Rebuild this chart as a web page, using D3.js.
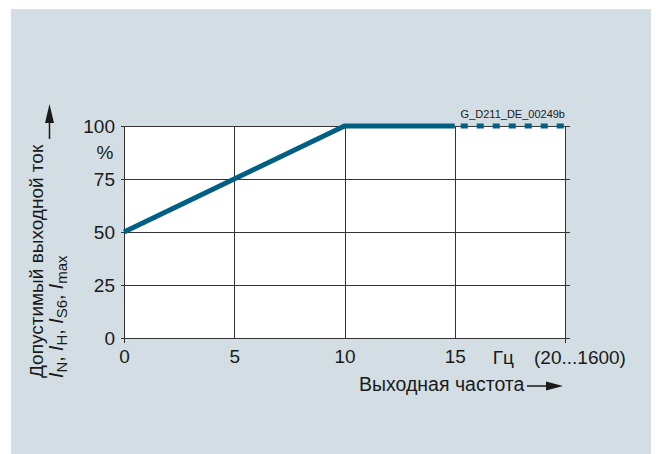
<!DOCTYPE html>
<html>
<head>
<meta charset="utf-8">
<script src="https://cdn.jsdelivr.net/npm/d3@7"></script>
<style>
  body { margin: 0; background: #fff; }
  text { font-family: "Liberation Sans", Arial, sans-serif; fill: #1a1a1a; }
</style>
</head>
<body>
<div id="chart"></div>
<script>
// chart data
var xTicks = [0, 5, 10, 15];
var xEnd = 20;
var yTicks = [0, 25, 50, 75, 100];
var solidX = [0, 10, 15];
var solidY = [50, 100, 100];
var dashX = [15, 20];
var dashY = [100, 100];

var W = 656, H = 454;
var margin = {top: 126, right: 91, bottom: 116, left: 124},
    width = W - margin.left - margin.right,
    height = H - margin.top - margin.bottom;

var svg = d3.select('#chart')
  .append('svg')
    .attr('width', W)
    .attr('height', H);

// background panel
svg.append('rect')
  .attr('x', 11).attr('y', 9)
  .attr('width', 640).attr('height', H - 9)
  .attr('fill', '#d3dee4');

var g = svg.append('g')
  .attr('transform', 'translate(' + margin.left + ',' + margin.top + ')');

var x = d3.scaleLinear().domain([0, xEnd]).range([0, width]);
var y = d3.scaleLinear().domain([0, 100]).range([height, 0]);

// plot area
g.append('rect')
  .attr('width', width).attr('height', height)
  .attr('fill', '#fff');

// horizontal grid lines
g.selectAll('.hgrid')
  .data(yTicks)
  .enter().append('line')
    .attr('x1', -3).attr('x2', width + 5)
    .attr('y1', function(d) { return y(d) + 0.5; })
    .attr('y2', function(d) { return y(d) + 0.5; })
    .attr('stroke', '#333').attr('stroke-width', 1);

// vertical grid lines
g.selectAll('.vgrid')
  .data(xTicks.concat([xEnd]))
  .enter().append('line')
    .attr('x1', function(d) { return Math.round(x(d)) + 0.5; })
    .attr('x2', function(d) { return Math.round(x(d)) + 0.5; })
    .attr('y1', 0)
    .attr('y2', function(d) { return (d === 0 || d === xEnd) ? height + 5 : height; })
    .attr('stroke', '#333').attr('stroke-width', 1);

// y axis labels
var yAxis = d3.axisLeft(y).tickValues(yTicks).tickSize(0).tickPadding(9);
var ya = g.append('g').call(yAxis);
ya.select('.domain').remove();
ya.selectAll('text')
  .style('font-size', '19px')
  .attr('fill', '#1a1a1a');

// x axis labels
var xAxis = d3.axisBottom(x).tickValues(xTicks).tickSize(0).tickPadding(12);
var xa = g.append('g').attr('transform', 'translate(0,' + height + ')').call(xAxis);
xa.select('.domain').remove();
xa.selectAll('text')
  .style('font-size', '19px')
  .attr('fill', '#1a1a1a');

// unit labels
g.append('text')
  .attr('x', -19).attr('y', y(87.5))
  .attr('dy', '0.35em')
  .attr('text-anchor', 'middle')
  .style('font-size', '19px')
  .text('%');

g.append('text')
  .attr('x', x(17.2)).attr('y', height + 26)
  .attr('text-anchor', 'middle')
  .style('font-size', '19px')
  .text('Гц');

g.append('text')
  .attr('x', x(xEnd) + 15).attr('y', height + 26)
  .attr('text-anchor', 'middle')
  .style('font-size', '19px')
  .text('(20...1600)');

// data line
var line = d3.line()
  .x(function(d) { return x(d[0]); })
  .y(function(d) { return y(d[1]); });

g.append('path')
  .attr('d', line(d3.zip(solidX, solidY)))
  .attr('fill', 'none')
  .attr('stroke', '#005f83')
  .attr('stroke-width', 5)
  .attr('stroke-linejoin', 'miter');

g.append('path')
  .attr('d', line(d3.zip(dashX, dashY)))
  .attr('fill', 'none')
  .attr('stroke', '#005f83')
  .attr('stroke-width', 5)
  .attr('stroke-dasharray', '7,9')
  .attr('stroke-dashoffset', -6);

// drawing id
g.append('text')
  .attr('x', width).attr('y', -8)
  .attr('text-anchor', 'end')
  .style('font-size', '11px')
  .text('G_D211_DE_00249b');

// x axis title with arrow
svg.append('text')
  .attr('x', 359).attr('y', 391)
  .style('font-size', '19.5px')
  .text('Выходная частота');

svg.append('line')
  .attr('x1', 527).attr('x2', 550)
  .attr('y1', 386).attr('y2', 386)
  .attr('stroke', '#1a1a1a').attr('stroke-width', 1.5);
svg.append('path')
  .attr('d', 'M563,386 L546,381.5 L546,390.5 Z')
  .attr('fill', '#1a1a1a');

// y axis title with arrow
svg.append('text')
  .attr('transform', 'translate(43,378) rotate(-90)')
  .style('font-size', '19px')
  .text('Допустимый выходной ток');

var t2 = svg.append('text')
  .attr('transform', 'translate(63,378) rotate(-90)')
  .style('font-size', '19.5px');
[['N', ', '], ['H', ', '], ['S6', ', '], ['max', '']].forEach(function(p) {
  t2.append('tspan').style('font-style', 'italic').text('I');
  t2.append('tspan').attr('dy', 4).style('font-size', '15px').text(p[0]);
  t2.append('tspan').attr('dy', -4).text(p[1]);
});

svg.append('line')
  .attr('x1', 49.5).attr('x2', 49.5)
  .attr('y1', 139).attr('y2', 118)
  .attr('stroke', '#1a1a1a').attr('stroke-width', 1.5);
svg.append('path')
  .attr('d', 'M49.5,104 L45,123 L54,123 Z')
  .attr('fill', '#1a1a1a');
</script>
</body>
</html>
